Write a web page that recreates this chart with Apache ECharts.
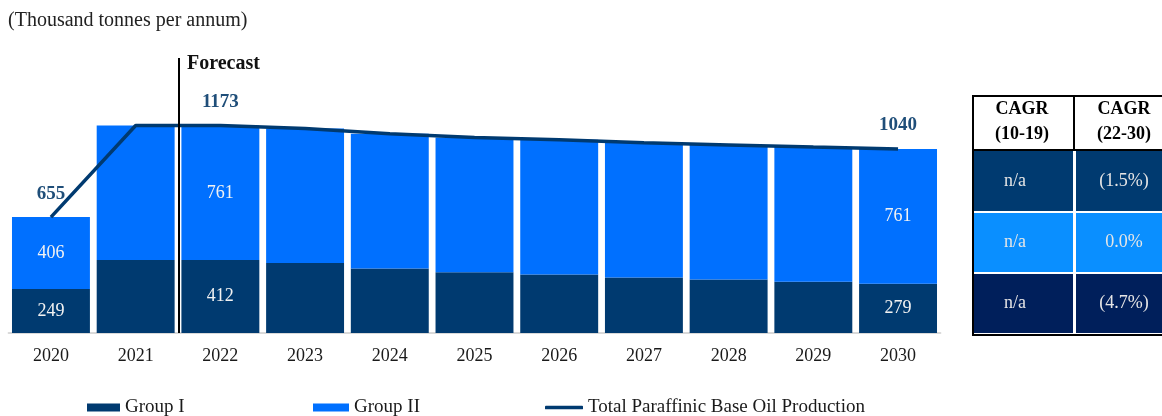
<!DOCTYPE html>
<html><head><meta charset="utf-8">
<script src="https://cdn.jsdelivr.net/npm/echarts@6/dist/echarts.min.js"></script>
<style>html,body{margin:0;padding:0;background:#fff}#c{width:1162px;height:416px}</style>
</head><body><div id="c"></div>
<script>
const years = ['2020','2021','2022','2023','2024','2025','2026','2027','2028','2029','2030'];
const groupI = [249, 412, 412, 395, 365, 344, 331, 314, 302, 290, 279];
const groupII = [406, 761, 761, 761, 761, 761, 761, 761, 761, 761, 761];
const totals = [655, 1173, 1173, 1156, 1126, 1105, 1092, 1075, 1063, 1051, 1040];
const labelledBars = [0, 2, 10];
const labelledTotals = [0, 2, 10];
const tableHeader = [['CAGR', '(10-19)'], ['CAGR', '(22-30)']];
const tableRows = [['n/a', '(1.5%)'], ['n/a', '0.0%'], ['n/a', '(4.7%)']];
const rowColors = ['#003a70', '#0a8fff', '#001f5b'];

const FONT = '"Liberation Serif", "DejaVu Serif", serif';
const C1 = '#003a70', C2 = '#0070ff', CL = '#003a70';

const chart = echarts.init(document.getElementById('c'));
const segLabel = {
  show: true, position: 'inside', color: '#f2f2f2', fontFamily: FONT, fontSize: 18,
  formatter: p => labelledBars.includes(p.dataIndex) ? String(p.value) : ''
};
const legendText = {fontFamily: FONT, fontSize: 19, color: '#1a1a1a'};

// table graphics
const tg = [];
const tx0 = 973, ty0 = 96, th = 54, rowY = [151, 213, 274], rowH = [60, 59, 59];
tg.push({type: 'rect', shape: {x: tx0, y: ty0, width: 200, height: th}, style: {fill: '#fff', stroke: '#000', lineWidth: 2}});
for (let c = 0; c < 2; c++) {
  tableHeader[c].forEach((t, i) => {
    tg.push({type: 'text', x: c === 0 ? 1022 : 1124, y: 109 + i * 25,
      style: {text: t, fill: '#000', font: 'bold 18px ' + FONT, textAlign: 'center', textVerticalAlign: 'middle'}});
  });
}
tg.push({type: 'line', shape: {x1: 1074, y1: ty0, x2: 1074, y2: ty0 + th}, style: {stroke: '#000', lineWidth: 2}});
tableRows.forEach((r, i) => {
  tg.push({type: 'rect', shape: {x: tx0, y: rowY[i], width: 100, height: rowH[i]}, style: {fill: rowColors[i]}});
  tg.push({type: 'rect', shape: {x: 1076, y: rowY[i], width: 100, height: rowH[i]}, style: {fill: rowColors[i]}});
  tg.push({type: 'text', x: 1015, y: rowY[i] + rowH[i] / 2,
    style: {text: r[0], fill: '#e6e6e6', font: '18px ' + FONT, textAlign: 'center', textVerticalAlign: 'middle'}});
  tg.push({type: 'text', x: 1124, y: rowY[i] + rowH[i] / 2,
    style: {text: r[1], fill: '#e6e6e6', font: '18px ' + FONT, textAlign: 'center', textVerticalAlign: 'middle'}});
});
tg.push({type: 'line', shape: {x1: tx0, y1: 150, x2: 1180, y2: 150}, style: {stroke: '#000', lineWidth: 2}});
tg.push({type: 'line', shape: {x1: tx0, y1: 96, x2: tx0, y2: 336}, style: {stroke: '#000', lineWidth: 2}});
tg.push({type: 'line', shape: {x1: tx0, y1: 335, x2: 1180, y2: 335}, style: {stroke: '#000', lineWidth: 2}});
tg.push({type: 'text', x: 8, y: 21, style: {text: '(Thousand tonnes per annum)', fill: '#222', font: '20px ' + FONT, textVerticalAlign: 'middle'}});

chart.setOption({
  animation: false,
  grid: {left: 8.6, right: 221.6, top: 103, bottom: 83},
  xAxis: {
    type: 'category', data: years,
    axisLine: {lineStyle: {color: '#d9d9d9', width: 2}},
    axisTick: {show: false},
    axisLabel: {fontFamily: FONT, fontSize: 18, color: '#1a1a1a', margin: 14}
  },
  yAxis: {type: 'value', min: 0, max: 1300, show: false, splitLine: {show: false}},
  legend: [
    {left: 87, top: 398, padding: 0, itemWidth: 33, itemHeight: 8, itemGap: 3, textStyle: legendText, data: [{name: 'Group I', icon: 'rect'}]},
    {left: 313, top: 398, padding: 0, itemWidth: 36, itemHeight: 8, itemGap: 3, textStyle: legendText, data: [{name: 'Group II', icon: 'rect'}]},
    {left: 545, top: 398, padding: 0, itemWidth: 38, itemHeight: 3.5, itemGap: 2, textStyle: legendText, data: [{name: 'Total Paraffinic Base Oil Production', icon: 'roundRect'}]}
  ],
  series: [
    {name: 'Group I', type: 'bar', stack: 's', data: groupI, barCategoryGap: '8%', itemStyle: {color: C1}, label: segLabel},
    {name: 'Group II', type: 'bar', stack: 's', data: groupII, itemStyle: {color: C2}, label: segLabel},
    {name: 'Total Paraffinic Base Oil Production', type: 'line', data: totals, smooth: false, showSymbol: true, symbol: 'circle', symbolSize: 0.01,
      lineStyle: {color: CL, width: 3.5}, itemStyle: {color: CL}, z: 5,
      label: {show: true, position: 'top', distance: 14, color: '#1f4e79', fontFamily: FONT, fontSize: 19, fontWeight: 'bold',
        formatter: p => labelledTotals.includes(p.dataIndex) ? String(p.value) : ''}}
  ],
  graphic: tg
});

// forecast divider between 2021 and 2022
const xa = chart.convertToPixel({xAxisIndex: 0}, '2021');
const xb = chart.convertToPixel({xAxisIndex: 0}, '2022');
const fx = Math.round((xa + xb) / 2) + 1;
const y0 = chart.convertToPixel({yAxisIndex: 0}, 0);
chart.setOption({graphic: tg.concat([
  {type: 'line', z: 10, shape: {x1: fx, y1: 58, x2: fx, y2: y0}, style: {stroke: '#000', lineWidth: 2}},
  {type: 'text', z: 10, x: fx + 8, y: 64, style: {text: 'Forecast', fill: '#111', font: 'bold 20px ' + FONT, textVerticalAlign: 'middle'}}
])});
</script></body></html>
